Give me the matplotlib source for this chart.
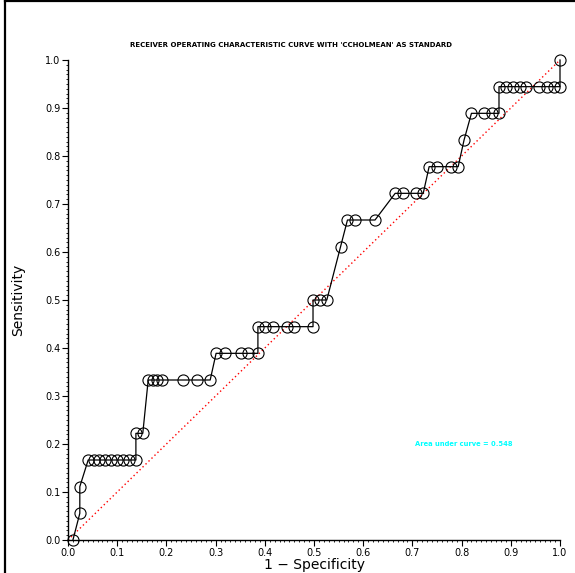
import numpy as np
import matplotlib as mpl
mpl.use("Agg")
import matplotlib.pyplot as plt
from matplotlib.lines import Line2D
from matplotlib.ticker import MultipleLocator

# ROC points: 1 - specificity and sensitivity (sensitivity steps of 1/18)
fpr = [0.010, 0.024, 0.024, 0.041,
       0.052, 0.064, 0.075, 0.087, 0.099, 0.111, 0.124, 0.138,
       0.138, 0.152,
       0.163, 0.173, 0.180, 0.191, 0.234, 0.262, 0.289,
       0.301, 0.319, 0.352, 0.366, 0.386,
       0.386, 0.400, 0.416, 0.445, 0.459, 0.498,
       0.498, 0.512, 0.526,
       0.554,
       0.568, 0.583, 0.624,
       0.665, 0.680, 0.707, 0.722,
       0.734, 0.749, 0.778, 0.793,
       0.805,
       0.820, 0.846, 0.861, 0.876,
       0.876, 0.890, 0.904, 0.918, 0.931, 0.958, 0.973, 0.988, 1.000,
       1.000]
n_tp = [0, 1, 2, 3,
        3, 3, 3, 3, 3, 3, 3, 3,
        4, 4,
        6, 6, 6, 6, 6, 6, 6,
        7, 7, 7, 7, 7,
        8, 8, 8, 8, 8, 8,
        9, 9, 9,
        11,
        12, 12, 12,
        13, 13, 13, 13,
        14, 14, 14, 14,
        15,
        16, 16, 16, 16,
        17, 17, 17, 17, 17, 17, 17, 17, 17,
        18]
n_pos = 18
sens = np.array(n_tp) / n_pos
auc = 0.548

W, H = 575, 573
fig = plt.figure(figsize=(W / 100, H / 100), dpi=100)
ax = fig.add_axes([68 / W, 1 - 540 / H, 492 / W, 480 / H])

ax.plot([0, 1], [0, 1], color="red", ls=(0, (1.0, 2.0)), lw=1.0, zorder=1)
ax.plot(fpr, sens, color="black", lw=0.9, marker="o", ms=8.0,
        mfc="none", mec="black", mew=0.8, clip_on=False, zorder=2)

ax.text(0.705, 0.2, f"Area under curve = {auc:.3f}", color="cyan",
        fontsize=4.9, fontweight="bold", ha="left", va="center")

ax.set_xlim(0, 1)
ax.set_ylim(0, 1)
ax.xaxis.set_major_locator(MultipleLocator(0.1))
ax.yaxis.set_major_locator(MultipleLocator(0.1))
ax.xaxis.set_minor_locator(MultipleLocator(0.01))
ax.yaxis.set_minor_locator(MultipleLocator(0.01))
ax.xaxis.set_major_formatter(mpl.ticker.FormatStrFormatter("%.1f"))
ax.yaxis.set_major_formatter(mpl.ticker.FormatStrFormatter("%.1f"))
ax.tick_params(which="major", length=4, width=0.8, labelsize=7, pad=1.5)
ax.tick_params(which="minor", length=1.5, width=0.6)
for s in ["top", "right"]:
    ax.spines[s].set_visible(False)
for s in ["left", "bottom"]:
    ax.spines[s].set_linewidth(1.0)

ax.set_xlabel("1 \u2212 Specificity", fontsize=10, labelpad=0)
ax.set_ylabel("Sensitivity", fontsize=10, labelpad=14)

fig.text(291 / W, 1 - 45 / H,
         "RECEIVER OPERATING CHARACTERISTIC CURVE WITH 'CCHOLMEAN' AS STANDARD",
         ha="center", va="center", fontsize=5.0, fontweight="bold")

# frame fragments on the left and top edge of the picture
fig.add_artist(Line2D([5 / W, 5 / W], [0, 1], color="black", lw=1.6))
fig.add_artist(Line2D([5 / W, 1], [1 - 1 / H, 1 - 1 / H], color="black", lw=1.6))

fig.savefig("out.png", dpi=100)
